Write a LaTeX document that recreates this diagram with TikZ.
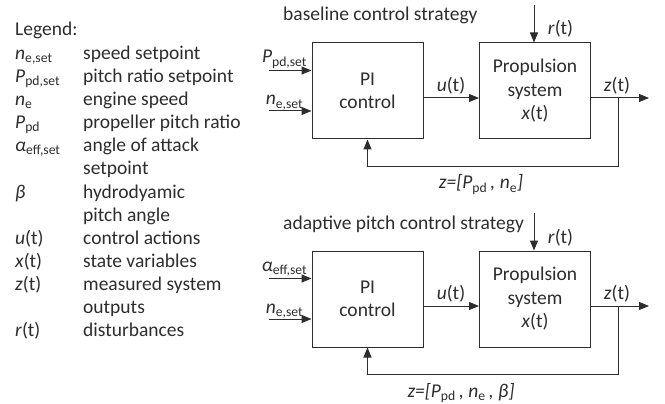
\documentclass[tikz,border=0pt]{standalone}
\usepackage{fontspec}
\setmainfont{Carlito}
\usetikzlibrary{arrows.meta}
\definecolor{linecol}{RGB}{45,45,45}
\newcommand\var[1]{\textit{#1}}
\newcommand\sbs[1]{\textsubscript{#1}}

\begin{document}
\begin{tikzpicture}[x=1pt, y=-1pt, text=linecol,
    font=\fontsize{19.5}{23.5}\selectfont,
    txt/.style={inner sep=0pt},
    block/.style={draw=linecol, line width=1pt, minimum width=111pt,
      minimum height=96pt, align=center, inner sep=0pt},
    sig/.style={draw=linecol, line width=1pt, -{Triangle[length=10pt,width=8pt]}}]
  \useasboundingbox (0,0) rectangle (665,404);
  % legend
  \node[txt, anchor=base west] (leg) at (15,36) {Legend:};
  \foreach[count=\k] \lsym/\ldesc in {{\var{n}\sbs{e,set}}/{speed setpoint},
      {\var{P}\sbs{pd,set}}/{pitch ratio setpoint}, {\var{n}\sbs{e}}/{engine speed},
      {\var{P}\sbs{pd}}/{propeller pitch ratio}, {\var{α}\sbs{eff,set}}/{angle of attack},
      {}/{setpoint}, {\var{β}}/{hydrodyamic}, {}/{pitch angle},
      {\var{u}(t)}/{control actions}, {\var{x}(t)}/{state variables},
      {\var{z}(t)}/{measured system}, {}/{outputs}, {\var{r}(t)}/{disturbances}} {
    \node[txt, anchor=base west] (sym-\k) at (15,36+23.15*\k) {\lsym};
    \node[txt, anchor=base west] (desc-\k) at (83,36+23.15*\k) {\ldesc};
  }
  % the two control loops
  \foreach[count=\i] \dy/\ttl/\ina/\fbx/\fb in {
      0/{baseline control strategy}/{\var{P}\sbs{pd,set}}/481/{\var{z=[P}\sbs{pd}\,\var{, n}\sbs{e}\var{]}},
      208/{adaptive pitch control strategy}/{\var{α}\sbs{eff,set}}/461/{\var{z=[P}\sbs{pd}\,\var{, n}\sbs{e}\,\var{, β]}}} {
    \begin{scope}[shift={(0,\dy)}]
      \node[txt, anchor=base west] (title-\i) at (283,21) {\ttl};
      \node[block] (pi-\i) at (367.5,91) {PI\\control};
      \node[block] (plant-\i) at (535,91) {Propulsion\\system\\\var{x}(t)};
      \coordinate (in1-\i) at (269,70.5);
      \coordinate (in2-\i) at (269,111);
      \coordinate (dist-\i) at (534,5);
      \coordinate (tap-\i) at (618,98);
      \coordinate (out-\i) at (649,98);
      \coordinate (fb-\i) at (367.5,166.5);
      \draw[sig] (in1-\i) -- (in1-\i -| pi-\i.west);
      \draw[sig] (in2-\i) -- (in2-\i -| pi-\i.west);
      \draw[sig] (pi-\i.east |- tap-\i) -- (plant-\i.west |- tap-\i);
      \draw[sig] (dist-\i) -- (dist-\i |- plant-\i.north);
      \draw[sig] (plant-\i.east |- tap-\i) -- (out-\i);
      \draw[sig] (tap-\i) |- (fb-\i) -- (pi-\i.south);
      \node[txt, anchor=base] (lin1-\i) at (284.5,63) {\ina};
      \node[txt, anchor=base] (lin2-\i) at (284.5,105) {\var{n}\sbs{e,set}};
      \node[txt, anchor=base] (lu-\i) at (451,91.5) {\var{u}(t)};
      \node[txt, anchor=base] (lz-\i) at (617,91.5) {\var{z}(t)};
      \node[txt, anchor=base] (lr-\i) at (560.5,35) {\var{r}(t)};
      \node[txt, anchor=base] (lfb-\i) at (\fbx,189) {\fb};
    \end{scope}
  }
\end{tikzpicture}
\end{document}
